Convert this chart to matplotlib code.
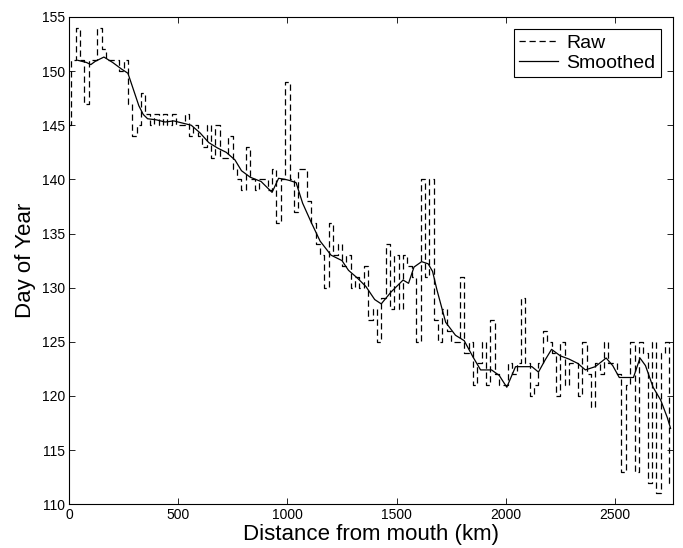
import numpy as np
import matplotlib
matplotlib.use("Agg")
import matplotlib.pyplot as plt

plt.rcParams['font.family'] = ['Liberation Sans', 'DejaVu Sans']

# Raw series: distance (km) sampled every 20 km, day of year
raw_km = np.arange(0, 2761, 20)
raw_day = [
    145, 151, 154, 151, 147, 151, 151, 154, 152, 151,
    151, 151, 150, 151, 147, 144, 145, 148, 146, 145,
    146, 145, 146, 145, 146, 145, 145, 146, 144, 145,
    144, 143, 145, 142, 145, 142, 142, 144, 141, 140,
    139, 143, 140, 139, 140, 140, 139, 141, 136, 140,
    149, 140, 137, 141, 141, 138, 136, 134, 133, 130,
    136, 133, 134, 132, 133, 130, 131, 130, 132, 127,
    128, 125, 129, 134, 128, 133, 128, 133, 132, 131,
    125, 140, 131, 140, 127, 125, 128, 126, 125, 125,
    131, 124, 125, 121, 123, 125, 121, 127, 122, 121,
    121, 123, 122, 123, 129, 123, 120, 121, 123, 126,
    125, 124, 120, 125, 121, 123, 123, 120, 125, 122,
    119, 123, 122, 125, 123, 123, 122, 113, 121, 125,
    113, 125, 124, 112, 125, 111, 124, 125, 112,
]

# Smoothed series
smooth_km = [
    40, 80, 100, 120, 160, 200, 240, 270, 300, 320,
    340, 360, 400, 440, 480, 520, 560, 600, 640, 680,
    720, 760, 790, 830, 880, 930, 960, 990, 1010, 1040,
    1070, 1110, 1150, 1200, 1250, 1280, 1320, 1360, 1400, 1430,
    1475, 1530, 1555, 1580, 1615, 1645, 1665, 1685, 1725, 1770,
    1810, 1850, 1885, 1935, 1970, 2005, 2045, 2080, 2120, 2150,
    2180, 2210, 2250, 2290, 2330, 2365, 2410, 2460, 2490, 2520,
    2550, 2585, 2615, 2640, 2675, 2710, 2740, 2755,
]
smooth_day = [
    151.0, 150.8, 150.6, 150.9, 151.3, 150.8, 150.2, 149.8, 148.0, 146.8,
    146.0, 145.6, 145.5, 145.3, 145.4, 145.2, 145.0, 144.3, 143.4, 142.9,
    142.5, 141.8, 140.8, 140.2, 139.8, 138.8, 140.1, 140.0, 139.9, 139.7,
    137.8, 136.0, 134.3, 133.0, 132.5, 131.6, 130.9, 130.1, 128.9, 128.5,
    129.6, 130.7, 130.4, 131.9, 132.4, 132.2, 131.5, 129.8, 126.8, 125.6,
    125.1, 123.6, 122.4, 122.4, 121.9, 120.8, 122.7, 122.7, 122.7, 122.2,
    123.3, 124.3, 123.7, 123.4, 123.0, 122.4, 122.7, 123.5, 122.8, 121.7,
    121.7, 121.7, 123.5, 122.8, 120.8, 119.6, 118.0, 117.0,
]

xticks = [0, 500, 1000, 1500, 2000, 2500]
yticks = [110, 115, 120, 125, 130, 135, 140, 145, 150, 155]

fig = plt.figure(figsize=(6.83, 5.48), dpi=100)
ax = fig.add_axes([0.101, 0.080, 0.884, 0.889])

ax.plot(raw_km, raw_day, color='black', lw=0.9, linestyle=(0, (5, 3)),
        drawstyle='steps-mid', label='Raw')
ax.plot(smooth_km, smooth_day, color='black', lw=0.9, label='Smoothed')

ax.set_xlim(0, 2765)
ax.set_ylim(110, 155)
ax.set_xticks(xticks)
ax.set_yticks(yticks)
ax.tick_params(direction='in', top=True, right=True, labelsize=10, length=4,
               width=0.6, pad=3)
for s in ax.spines.values():
    s.set_linewidth(0.8)

ax.set_xlabel('Distance from mouth (km)', fontsize=16, labelpad=1)
ax.set_ylabel('Day of Year', fontsize=16, labelpad=4)

leg = ax.legend(loc='upper right', fontsize=14, frameon=True, fancybox=False,
                handlelength=2.0, handletextpad=0.4, borderpad=0.3,
                labelspacing=0.1, borderaxespad=0.6)
leg.get_frame().set_edgecolor('black')
leg.get_frame().set_linewidth(0.8)
leg.get_frame().set_alpha(1)

fig.savefig('out.png', dpi=100)
